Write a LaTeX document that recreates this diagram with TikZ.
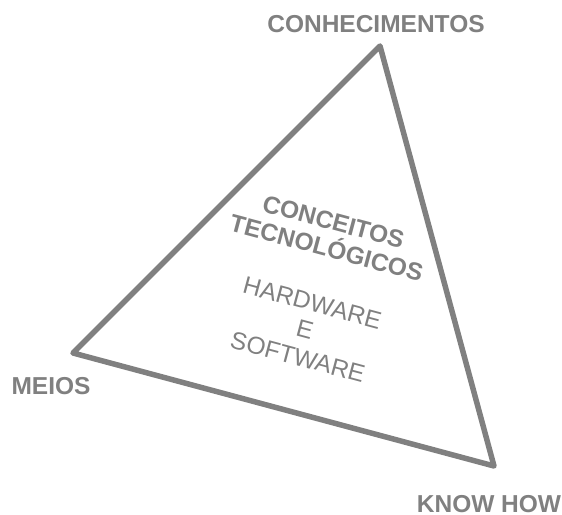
\documentclass[tikz,border=0pt]{standalone}
\usepackage{fontspec}
\setmainfont{Liberation Sans}
\definecolor{tri}{RGB}{128,128,128}
\begin{document}
\begin{tikzpicture}[x=1pt,y=1pt,
  edge/.style={draw=tri,line width=5.5pt,line join=round,line cap=round},
  corner/.style={text=tri,font=\fontsize{24.5}{27}\selectfont\bfseries,inner sep=0pt,anchor=base},
  inbold/.style={text=tri,font=\fontsize{24.5}{27}\selectfont\bfseries,align=center,rotate=-15,inner sep=0pt},
  inreg/.style={text=tri,font=\fontsize{24.5}{28}\selectfont,align=center,rotate=-15,inner sep=0pt}]
\useasboundingbox (0,0) rectangle (562,514);
\coordinate (T) at (380,468);
\coordinate (L) at (73,161);
\coordinate (R) at (494,48);
\draw[edge] (T) -- (L) -- (R) -- cycle;
\node[corner] (conh) at (376,481) {CONHECIMENTOS};
\node[corner] (meios) at (51,119) {MEIOS};
\node[corner] (know) at (489,2) {KNOW HOW};
\node[inbold] (conc) at (330,279) {CONCEITOS\\TECNOLÓGICOS};
\node[inreg] (hw) at (305,184) {HARDWARE\\E\\SOFTWARE};
\end{tikzpicture}
\end{document}
